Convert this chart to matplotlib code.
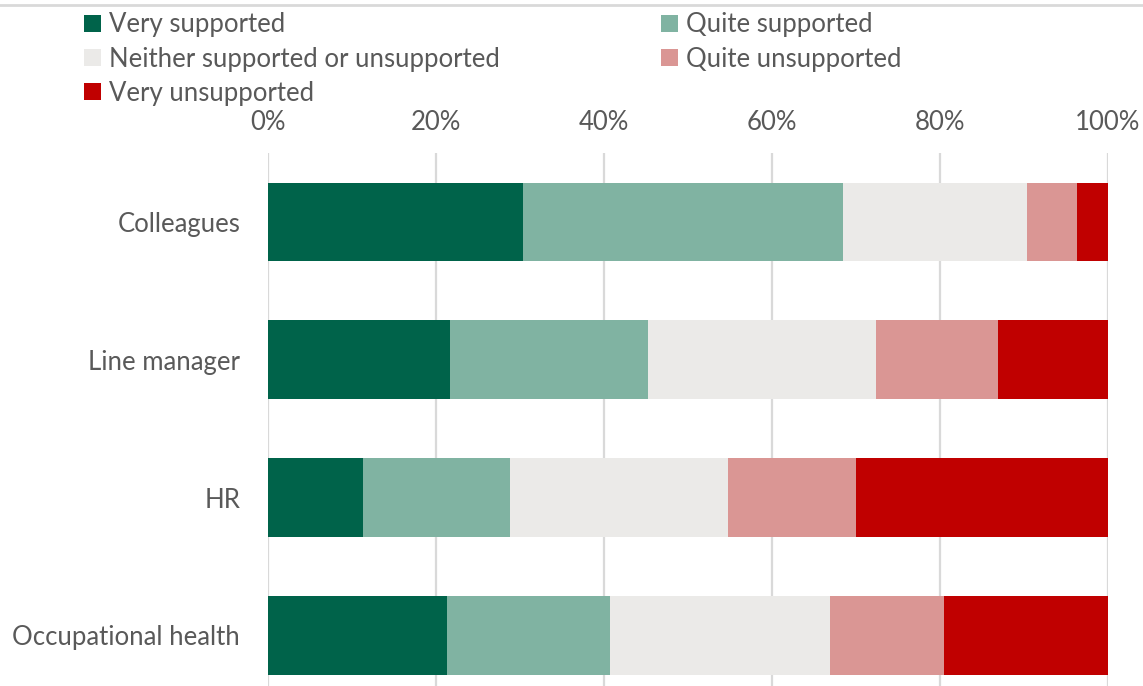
import numpy as np
import matplotlib.pyplot as plt
from matplotlib.lines import Line2D

plt.rcParams['font.family'] = ['Lato', 'DejaVu Sans']

groups = ["Colleagues", "Line manager", "HR", "Occupational health"]
levels = ["Very supported", "Quite supported", "Neither supported or unsupported",
          "Quite unsupported", "Very unsupported"]
very_sup = [30.4, 21.7, 11.3, 21.3]
quite_sup = [38.0, 23.5, 17.5, 19.4]
neither = [22.0, 27.2, 26.0, 26.2]
quite_unsup = [5.9, 14.5, 15.2, 13.6]
very_unsup = [3.7, 13.1, 30.0, 19.5]
colors = ["#00634A", "#80B3A2", "#EBEAE8", "#DA9694", "#C00000"]

series = [very_sup, quite_sup, neither, quite_unsup, very_unsup]
txt = "#595959"
fs = 18.5

fig = plt.figure(figsize=(11.43, 6.86), dpi=100)
ax = fig.add_axes([268 / 1143, 0, 840 / 1143, (686 - 153) / 686])

y = np.arange(len(groups))
left = np.zeros(len(groups))
handles = []
for vals, name, c in zip(series, levels, colors):
    b = ax.barh(y, vals, left=left, height=0.57, color=c, label=name, zorder=3)
    handles.append(b)
    left += np.array(vals)

ax.set_xlim(0, 100)
ax.set_ylim(3.367, -0.5)
ax.set_xticks(np.arange(0, 101, 20))
ax.set_xticklabels([f"{v}%" for v in range(0, 101, 20)])
ax.xaxis.tick_top()
ax.set_yticks(y)
ax.set_yticklabels(groups)
ax.tick_params(axis='both', length=0, labelsize=fs, colors=txt)
ax.tick_params(axis='x', pad=13)
ax.tick_params(axis='y', pad=20)
ax.grid(axis='x', color="#D9D9D9", linewidth=1.6, zorder=0)
for s in ax.spines.values():
    s.set_visible(False)

# row-major legend order in two columns
order = [0, 2, 4, 1, 3]
leg = fig.legend([handles[i] for i in order], [levels[i] for i in order],
                 ncol=2, loc='upper left', bbox_to_anchor=(74 / 1143, 1 - 2 / 686),
                 frameon=False, fontsize=fs, handlelength=0.65, handleheight=0.65,
                 handletextpad=0.3, columnspacing=6.3, labelspacing=0.36,
                 labelcolor=txt, borderaxespad=0)

fig.add_artist(Line2D([0, 1], [1 - 5 / 686, 1 - 5 / 686], color="#D9D9D9", linewidth=2))

fig.savefig("out.png", dpi=100)
